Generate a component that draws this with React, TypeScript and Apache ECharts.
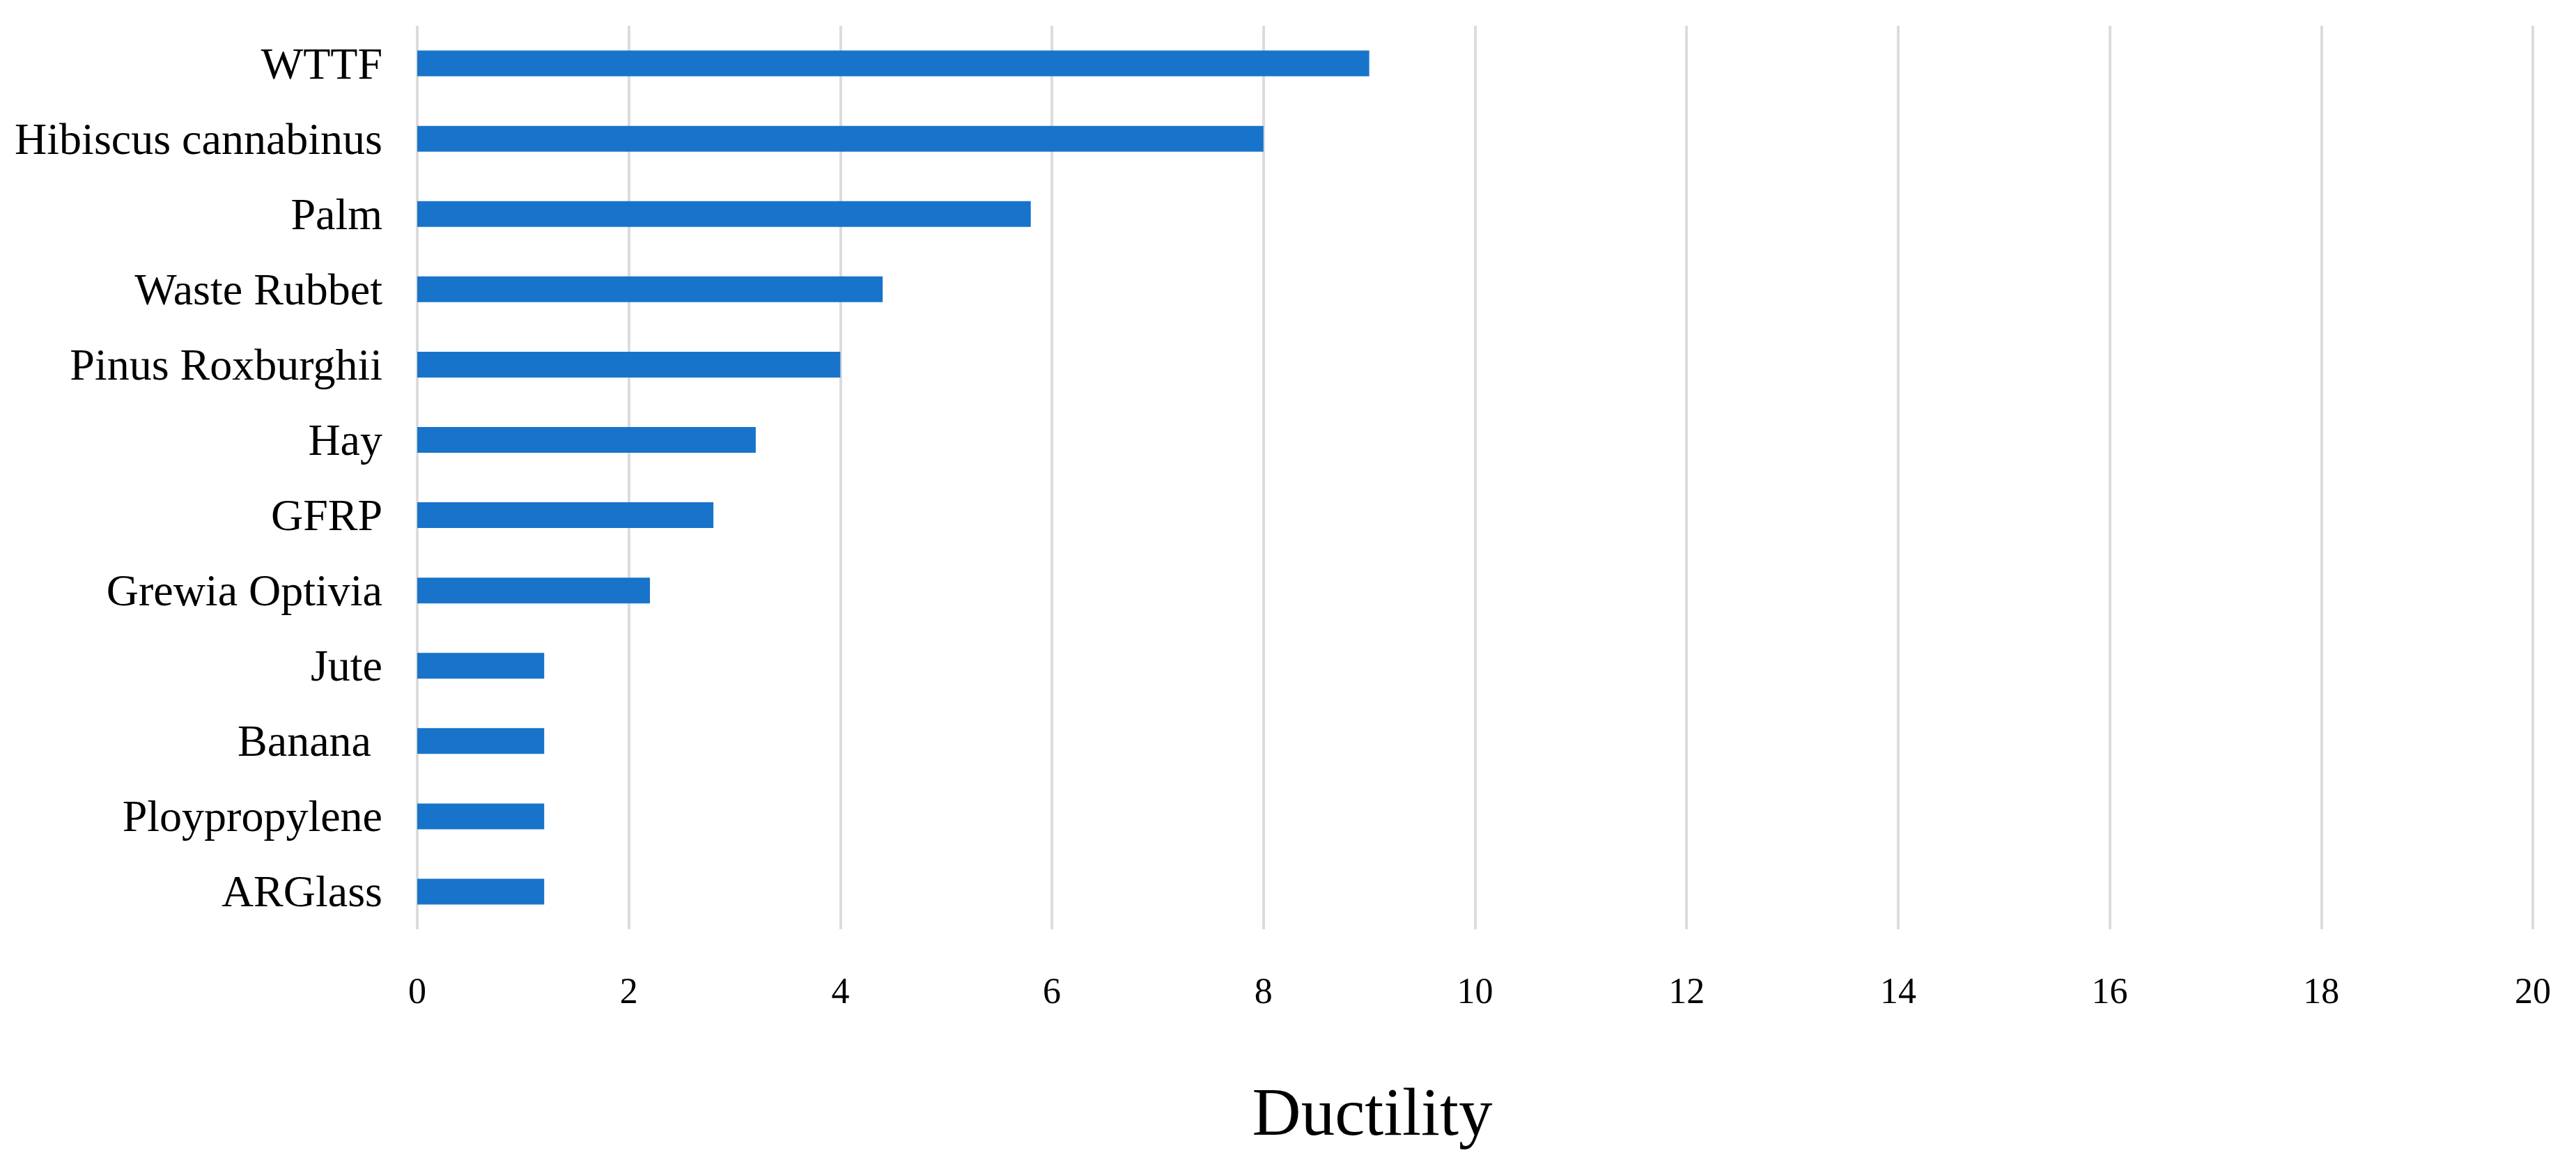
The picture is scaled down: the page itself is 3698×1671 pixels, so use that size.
import React, { useEffect, useRef } from "react";
import * as echarts from "echarts";

const categories = [
  "WTTF",
  "Hibiscus cannabinus",
  "Palm",
  "Waste Rubbet",
  "Pinus Roxburghii",
  "Hay",
  "GFRP",
  "Grewia Optivia",
  "Jute",
  "Banana ",
  "Ploypropylene",
  "ARGlass",
];
const ductility = [9, 8, 5.8, 4.4, 4, 3.2, 2.8, 2.2, 1.2, 1.2, 1.2, 1.2];
const axisTicks = [0, 2, 4, 6, 8, 10, 12, 14, 16, 18, 20];
const axisTitle = "Ductility";

export default function App() {
  const ref = useRef<HTMLDivElement>(null);
  useEffect(() => {
    document.body.style.margin = "0";
    if (!ref.current) return;
    const chart = echarts.init(ref.current, null, { renderer: "svg" });
    const font = "'Liberation Serif', 'Times New Roman', serif";
    chart.setOption({
      animation: false,
      backgroundColor: "#ffffff",
      grid: { left: 599, right: 62, top: 37, height: 1297, containLabel: false },
      xAxis: {
        type: "value",
        min: axisTicks[0],
        max: axisTicks[axisTicks.length - 1],
        interval: 2,
        axisLine: { show: false },
        axisTick: { show: false },
        splitLine: { show: true, lineStyle: { color: "#dcdcdc", width: 4 } },
        axisLabel: {
          color: "#000",
          fontFamily: font,
          fontSize: 52,
          margin: 62,
        },
      },
      yAxis: {
        type: "category",
        data: categories,
        inverse: true,
        axisLine: { show: false },
        axisTick: { show: false },
        axisLabel: {
          color: "#000",
          fontFamily: font,
          fontSize: 64,
          margin: 50,
        },
      },
      series: [
        {
          type: "bar",
          data: ductility,
          barWidth: 37,
          itemStyle: { color: "#1874ca" },
        },
      ],
      graphic: [
        {
          type: "text",
          x: 1970,
          y: 1596,
          style: {
            text: axisTitle,
            fontFamily: font,
            fontSize: 97,
            fill: "#000",
            textAlign: "center",
            textVerticalAlign: "middle",
          },
        },
      ],
    });
    return () => chart.dispose();
  }, []);
  return <div ref={ref} style={{ width: 3698, height: 1671 }} />;
}
